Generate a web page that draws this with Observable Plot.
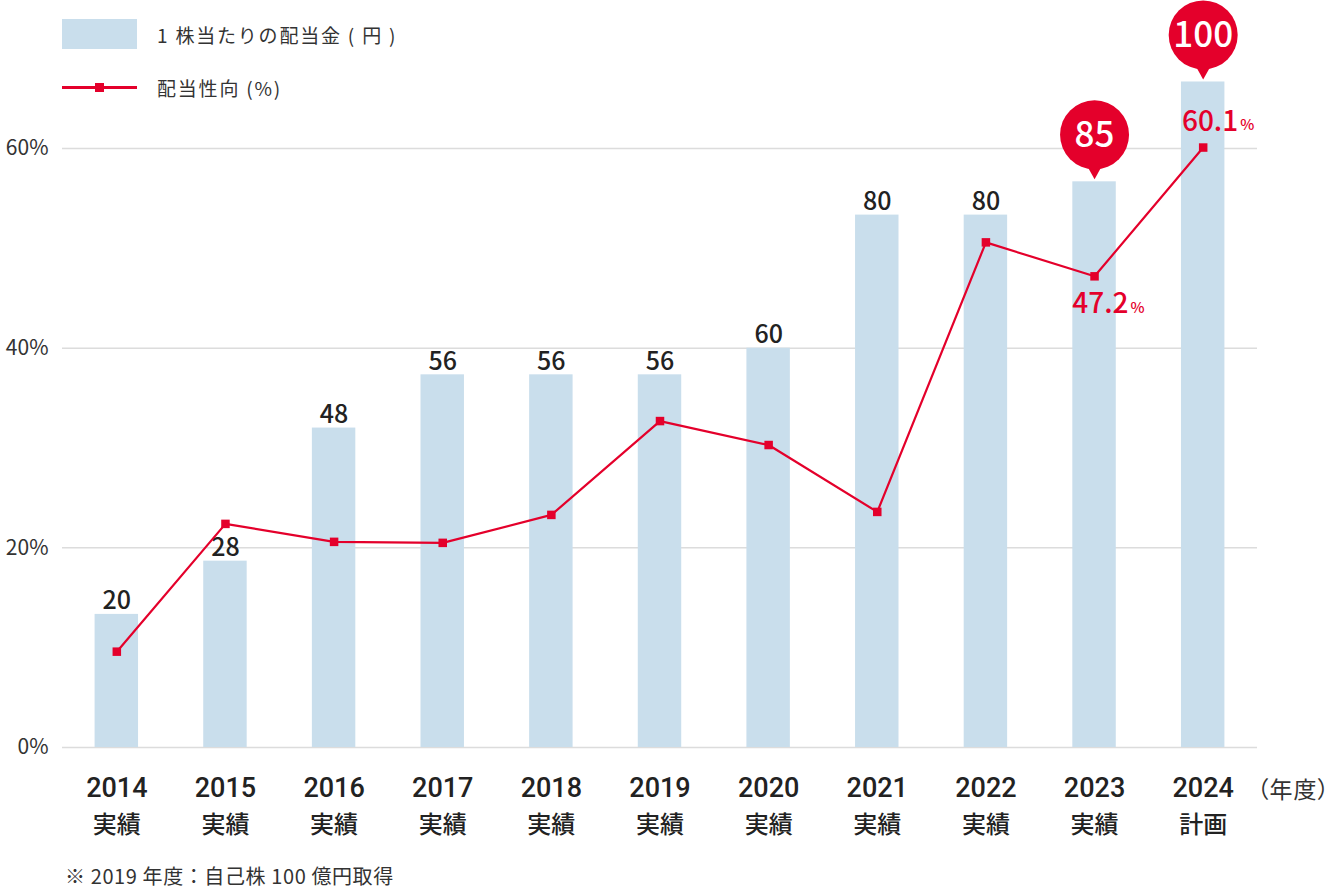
<!DOCTYPE html>
<html lang="ja">
<head>
<meta charset="utf-8">
<script src="https://cdn.jsdelivr.net/npm/d3@7"></script>
<script src="https://cdn.jsdelivr.net/npm/@observablehq/plot@0.6"></script>
<style>
  html, body { margin: 0; padding: 0; background: #fff; }
  body { width: 1330px; height: 889px; position: relative; overflow: hidden;
         font-family: "Noto Sans CJK JP", "Noto Sans", sans-serif; color: #333; }
  #chart { position: absolute; left: 0; top: 0; }
  #chart svg { overflow: visible; }
  .legend { position: absolute; left: 62px; font-size: 19px; color: #333; }
  .legend .row { position: absolute; left: 0; white-space: nowrap; display: flex; align-items: center; }
  .swatch-bar { width: 75px; height: 30px; background: #c9deec; }
  .swatch-line { width: 75px; height: 30px; position: relative; }
  .swatch-line::before { content: ""; position: absolute; left: 0; right: 0; top: 14px; height: 2.5px; background: #e4002b; }
  .swatch-line::after { content: ""; position: absolute; left: 33px; top: 11px; width: 9px; height: 9px; background: #e4002b; }
  .legend .lab { margin-left: 20px; letter-spacing: 1.8px; }
  #unit { position: absolute; right: 0; top: 773px; font-size: 23px; line-height: 30px; color: #333;
          font-feature-settings: "palt"; letter-spacing: 1px; }
  #note { position: absolute; left: 65px; top: 866px; font-size: 20px; line-height: 20px; color: #333;
          letter-spacing: 0.6px; }
</style>
</head>
<body>
<div id="chart"></div>
<div class="legend">
  <div class="row" style="top:19px"><div class="swatch-bar"></div><span class="lab" id="lab1"></span></div>
  <div class="row" style="top:72px"><div class="swatch-line"></div><span class="lab" id="lab2"></span></div>
</div>
<div id="unit"></div>
<div id="note"></div>
<script>
// ---- data ----
const years = ["2014", "2015", "2016", "2017", "2018", "2019", "2020", "2021", "2022", "2023", "2024"];
const status = ["実績", "実績", "実績", "実績", "実績", "実績", "実績", "実績", "実績", "実績", "計画"];
const dividend = [20, 28, 48, 56, 56, 56, 60, 80, 80, 85, 100];          // 1株当たりの配当金（円）
const payout = [9.6, 22.4, 20.6, 20.5, 23.3, 32.7, 30.3, 23.6, 50.6, 47.2, 60.1]; // 配当性向（%）
const yTicks = [0, 20, 40, 60];
const bubbleYears = ["2023", "2024"];      // dividend shown in red bubble
const payoutLabelYears = ["2023", "2024"]; // payout ratio labelled
const payoutLabelBelow = ["2023"];
const yenPerPercent = 1.5;                 // 60円 = 40% on the shared axis
const legendLabels = ["1 株当たりの配当金 ( 円 )", "配当性向 (%)"];
const unitLabel = "（年度）";
const noteText = "※ 2019 年度：自己株 100 億円取得";

// ---- styles ----
const RED = "#e4002b";
const BAR = "#c9deec";
const FONT = "'Noto Sans CJK JP', 'Noto Sans', sans-serif";
const NUMFONT = "Roboto, 'Noto Sans CJK JP', sans-serif";

const data = years.map((y, i) => ({
  year: y, status: status[i], dividend: dividend[i], payout: payout[i]
}));
const plain = data.filter(d => !bubbleYears.includes(d.year));
const bubbles = data.filter(d => bubbleYears.includes(d.year));
const pctAbove = data.filter(d => payoutLabelYears.includes(d.year) && !payoutLabelBelow.includes(d.year));
const pctBelow = data.filter(d => payoutLabelBelow.includes(d.year));
const barY = d => d.dividend / yenPerPercent;

const downTriangle = {
  draw(ctx, size) {
    const s = Math.sqrt(size / Math.PI);
    ctx.moveTo(-s * 1.35, -s);
    ctx.lineTo(s * 1.35, -s);
    ctx.lineTo(0, s * 1.4);
    ctx.closePath();
  }
};

const chart = Plot.plot({
  width: 1330,
  height: 850,
  marginLeft: 62,
  marginRight: 73,
  marginTop: 0,
  marginBottom: 103,
  style: { fontFamily: FONT, background: "transparent", overflow: "visible" },
  x: { type: "band", domain: years, paddingInner: 0.6, paddingOuter: 0.3, round: false },
  y: { domain: [0, 74.83] },
  marks: [
    Plot.gridY(yTicks, { stroke: "#dcdcdc", strokeOpacity: 1, strokeWidth: 1.5 }),
    Plot.axisY(yTicks, {
      tickSize: 0, tickPadding: 14, label: null,
      tickFormat: d => d + "%", fontSize: 21, fill: "#333"
    }),
    Plot.axisX(years, {
      tickSize: 0, tickPadding: 30, label: null,
      fontSize: 27, fontWeight: 500, fill: "#222", fontFamily: NUMFONT
    }),
    Plot.axisX(years, {
      tickSize: 0, tickPadding: 68, label: null,
      tickFormat: d => status[years.indexOf(d)],
      fontSize: 24, fontWeight: 500, fill: "#222"
    }),
    Plot.barY(data, { x: "year", y: barY, fill: BAR }),
    Plot.text(plain, {
      x: "year", y: barY, text: d => String(d.dividend),
      lineAnchor: "bottom", dy: -5, fontSize: 25, fontWeight: 500, fill: "#222"
    }),
    Plot.line(data, { x: "year", y: "payout", stroke: RED, strokeWidth: 2.2 }),
    Plot.dot(data, { x: "year", y: "payout", symbol: "square", r: 4.8, fill: RED }),
    // bubbles
    Plot.dot(bubbles, { x: "year", y: barY, symbol: downTriangle, r: 6, dy: -11, fill: RED }),
    Plot.dot(bubbles, { x: "year", y: barY, r: 34.5, dy: -47, fill: RED }),
    Plot.text(bubbles, {
      x: "year", y: barY, text: d => String(d.dividend), dy: -46,
      fontSize: 35, fontWeight: 500, fill: "#fff", style: "letter-spacing:-1.5px"
    }),
    // payout labels
    Plot.text(pctAbove, {
      x: "year", y: "payout", text: d => d.payout.toFixed(1), textAnchor: "end",
      dx: 35, dy: -26, fontSize: 28, fontWeight: 500, fill: RED
    }),
    Plot.text(pctAbove, {
      x: "year", y: "payout", text: () => "%", textAnchor: "start",
      dx: 37, dy: -22, fontSize: 15, fontWeight: 500, fill: RED
    }),
    Plot.text(pctBelow, {
      x: "year", y: "payout", text: d => d.payout.toFixed(1), textAnchor: "end",
      dx: 34, dy: 28, fontSize: 28, fontWeight: 500, fill: RED
    }),
    Plot.text(pctBelow, {
      x: "year", y: "payout", text: () => "%", textAnchor: "start",
      dx: 36, dy: 32, fontSize: 15, fontWeight: 500, fill: RED
    })
  ]
});
document.getElementById("chart").appendChild(chart);
document.getElementById("lab1").textContent = legendLabels[0];
document.getElementById("lab2").textContent = legendLabels[1];
document.getElementById("unit").textContent = unitLabel;
document.getElementById("note").textContent = noteText;
</script>
</body>
</html>
